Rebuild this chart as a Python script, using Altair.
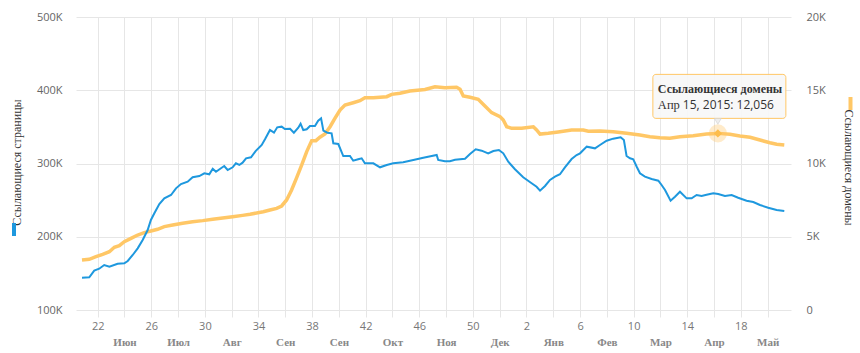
import altair as alt
import pandas as pd

# ---------------- data ----------------
START = "2014-05-26"  # Monday of ISO week 22, 2014; offsets below are days from it

pages_days = [-8.2, -4.4, -1.8, 0.8, 3.4, 6.1, 10.4, 13.9, 15.7, 18.3, 20.9, 23.5, 26.1, 27.8,
              29.6, 32.2, 34.8, 38.3, 40.9, 43.5, 47.0, 49.6, 53.1, 55.7, 58.3, 60.1, 61.8, 64.4,
              66.1, 67.9, 70.5, 72.2, 74.0, 75.7, 77.5, 80.1, 82.5, 85.7, 87.4, 90.0, 92.1, 93.8,
              96.1, 97.8, 100.5, 102.5, 104.8, 106.0, 107.4, 109.2, 110.9, 113.5, 115.2, 116.7,
              117.9, 120.0, 122.2, 123.1, 125.7, 128.3, 131.8, 133.5, 136.1, 137.9, 139.6, 144.0,
              147.5, 151.0, 154.4, 159.6, 164.9, 170.1, 174.5, 177.1, 177.9, 181.4, 184.0, 186.7,
              191.9, 194.5, 197.5, 200.6, 204.0, 206.7, 209.6, 211.9, 214.5, 218.0, 222.3, 226.7,
              229.3, 231.1, 233.7, 236.3, 238.9, 241.5, 244.1, 247.6, 250.2, 252.0, 255.5, 259.8,
              262.4, 265.9, 269.3, 273.2, 274.9, 276.3, 278.1, 279.8, 281.6, 283.3, 285.9, 289.4,
              292.9, 294.6, 296.4, 299.3, 301.6, 304.2, 307.7, 310.3, 312.9, 315.5, 318.1, 321.6,
              324.2, 327.7, 331.2, 334.6, 339.0, 342.5, 346.0, 350.3, 354.7, 358.7]
pages_values = [144100, 144600, 153700, 156400, 161400, 159100, 163200, 163700, 166900, 175100,
                184200, 195600, 209200, 222900, 232000, 244700, 252400, 257000, 266100, 272000,
                275200, 281200, 282900, 286600, 285300, 292900, 288800, 293500, 296600, 291100,
                294800, 300300, 298000, 301100, 307100, 308500, 317000, 325300, 333000, 345700,
                342100, 349400, 350300, 347100, 347500, 342100, 348900, 354300, 345700, 346700,
                351200, 351200, 358400, 361700, 344800, 342100, 341200, 327600, 326600, 310200,
                310200, 303800, 305700, 307100, 300300, 300300, 294800, 298000, 300300, 301600,
                304800, 307900, 310200, 311600, 304800, 303000, 303000, 305200, 306600, 313000,
                319400, 317500, 313900, 317100, 318400, 313900, 302400, 292100, 281200, 273000,
                268300, 262900, 269300, 277500, 282000, 285300, 294800, 306100, 311600, 313900,
                323000, 320700, 325300, 331100, 333900, 335800, 332100, 310200, 307100, 305700,
                295600, 286600, 282000, 278800, 276500, 270700, 263800, 249200, 254700, 261500,
                252400, 252400, 257000, 255600, 257400, 259300, 258400, 255600, 257000, 253300,
                249200, 247400, 243300, 239700, 236500, 235200]

domains_days = [-8.2, -4.4, -0.9, 2.6, 6.1, 8.7, 11.3, 13.9, 17.4, 20.9, 24.3, 27.8, 31.3, 34.8,
                39.2, 44.4, 49.6, 54.9, 60.1, 65.3, 70.5, 75.7, 79.6, 86.5, 90.0, 93.5, 96.1, 98.7,
                101.3, 103.8, 106.6, 109.2, 111.8, 114.0, 116.1, 118.7, 121.4, 124.0, 126.6, 129.2,
                133.5, 137.0, 139.6, 144.0, 151.0, 153.6, 157.9, 163.1, 168.4, 171.0, 176.2, 181.4,
                187.5, 189.3, 191.0, 194.5, 198.8, 202.3, 205.8, 210.2, 211.9, 213.7, 216.3, 221.5,
                227.6, 229.3, 231.1, 235.4, 240.6, 247.6, 253.7, 256.3, 262.4, 269.3, 276.3, 283.3,
                288.5, 293.7, 298.9, 304.2, 311.1, 318.1, 324.2, 330.3, 335.5, 340.8, 346.0, 351.2,
                354.7, 358.7]
domains_values = [3410, 3460, 3640, 3800, 3980, 4280, 4390, 4660, 4890, 5120, 5280, 5390, 5510,
                  5690, 5800, 5920, 6030, 6100, 6190, 6280, 6370, 6460, 6530, 6710, 6830, 6940,
                  7100, 7510, 8190, 8990, 9900, 10810, 11560, 11560, 11790, 12010, 12510, 13090,
                  13650, 13990, 14150, 14290, 14490, 14490, 14560, 14720, 14790, 14950, 15020,
                  15050, 15240, 15170, 15200, 15070, 14610, 14520, 14380, 13930, 13470, 13200,
                  12970, 12510, 12400, 12400, 12510, 12290, 12010, 12060, 12150, 12290, 12290,
                  12200, 12220, 12170, 12060, 11950, 11830, 11760, 11720, 11830, 11900, 12010,
                  12056, 11990, 11880, 11790, 11600, 11420, 11310, 11260]

# x-axis ticks: Mondays, every two weeks (week numbers), and month captions
week_ticks = ["2014-05-26", "2014-06-09", "2014-06-23", "2014-07-07", "2014-07-21", "2014-08-04",
              "2014-08-18", "2014-09-01", "2014-09-15", "2014-09-29", "2014-10-13", "2014-10-27",
              "2014-11-10", "2014-11-24", "2014-12-08", "2014-12-22", "2015-01-05", "2015-01-19",
              "2015-02-02", "2015-02-16", "2015-03-02", "2015-03-16", "2015-03-30", "2015-04-13",
              "2015-04-27", "2015-05-11"]
month_ticks = ["2014-06-09", "2014-07-07", "2014-08-04", "2014-09-01", "2014-09-29", "2014-10-27",
               "2014-11-24", "2014-12-22", "2015-01-19", "2015-02-16", "2015-03-16", "2015-04-13",
               "2015-05-11"]
month_names = ["Янв", "Фев", "Мар", "Апр", "Май", "Июн", "Июл", "Авг", "Сен", "Окт", "Ноя", "Дек"]
pages_ticks = [100000, 200000, 300000, 400000, 500000]
domains_ticks = [0, 5000, 10000, 15000, 20000]

# highlighted point (tooltip)
tip_date = ["2015-04-15"]
tip_value = [12056]
tip_series = ["Ссылающиеся домены"]
tip_month = ["Апр"]
tip_rest = ["15, 2015: 12,056"]

# ---------------- tables ----------------
start = pd.Timestamp(START)


def iso(days):
    return [(start + pd.Timedelta(days=d)).strftime("%Y-%m-%dT%H:%M:%SZ") for d in days]


pages_df = pd.DataFrame({"date": iso(pages_days), "value": pages_values})
domains_df = pd.DataFrame({"date": iso(domains_days), "value": domains_values})
tip_df = pd.DataFrame({"date": [d + "T00:00:00Z" for d in tip_date], "value": tip_value,
                       "series": tip_series, "month": tip_month, "rest": tip_rest})


def dt(s, hours=0):
    y, m, d = map(int, s.split("-"))
    return alt.DateTime(year=y, month=m, date=d, hours=hours, utc=True)


# ---------------- style ----------------
BLUE = "#1e98de"
ORANGE = "#ffc766"
GRID = "#e6e6e6"
SANS = "Open Sans"
SERIF = "Liberation Serif"

x_scale = alt.Scale(type="utc", domain=[dt("2014-05-14", 16), dt("2015-05-23", 5)], nice=False)
y_left = alt.Scale(domain=[pages_ticks[0], pages_ticks[-1]], nice=False)
y_right = alt.Scale(domain=[domains_ticks[0], domains_ticks[-1]], nice=False)

month_expr = "[" + ",".join("'%s'" % m for m in month_names) + "][utcmonth(datum.value)]"

week_axis = alt.Axis(
    orient="bottom", values=[dt(s) for s in week_ticks],
    labelExpr="toNumber(utcFormat(datum.value, '%V')) % 4 == 2 ? '' + toNumber(utcFormat(datum.value, '%V')) : ''",
    grid=True, gridColor=GRID, domain=False, ticks=True, tickColor=GRID, tickSize=7,
    labelPadding=3, labelFont=SANS, labelFontSize=11, labelColor="#777777",
    labelOverlap=False, title=None)

month_axis = alt.Axis(
    orient="bottom", values=[dt(s) for s in month_ticks], labelExpr=month_expr,
    grid=False, domain=False, ticks=False, tickSize=0, labelPadding=26,
    labelFont=SERIF, labelFontWeight="bold", labelFontSize=11, labelColor="#888888",
    labelOverlap=False, title=None)

left_axis = alt.Axis(
    orient="left", values=pages_ticks, labelExpr="datum.value / 1000 + 'K'",
    grid=True, gridColor=GRID, domain=False, ticks=False, tickSize=0, labelPadding=14,
    labelFont=SANS, labelFontSize=11, labelColor="#666666",
    title="Ссылающиеся страницы", titleFont=SERIF, titleFontSize=12, titleFontWeight="normal",
    titleColor="#333333", titleAngle=270, titleX=-60, titleY=145, titleAlign="center",
    titleBaseline="middle")

right_axis = alt.Axis(
    orient="right", values=domains_ticks,
    labelExpr="datum.value == 0 ? '0' : datum.value / 1000 + 'K'",
    grid=False, domain=False, ticks=False, tickSize=0, labelPadding=15,
    labelFont=SANS, labelFontSize=11, labelColor="#666666",
    title="Ссылающиеся домены", titleFont=SERIF, titleFontSize=12, titleFontWeight="normal",
    titleColor="#333333", titleAngle=90, titleX=57, titleY=150, titleAlign="center",
    titleBaseline="middle")

# ---------------- layers ----------------
orange_line = alt.Chart(domains_df).mark_line(color=ORANGE, strokeWidth=3.5).encode(
    x=alt.X("date:T", scale=x_scale, axis=month_axis),
    y=alt.Y("value:Q", scale=y_right, axis=right_axis))

blue_line = alt.Chart(pages_df).mark_line(color=BLUE, strokeWidth=2).encode(
    x=alt.X("date:T", scale=x_scale, axis=week_axis),
    y=alt.Y("value:Q", scale=y_left, axis=left_axis))

left_bar = alt.Chart(tip_df).mark_rule(color=BLUE, strokeWidth=4).encode(
    x=alt.value(-62), y=alt.value(206), y2=alt.value(219))
right_bar = alt.Chart(tip_df).mark_rule(color=ORANGE, strokeWidth=4).encode(
    x=alt.value(774.5), y=alt.value(80), y2=alt.value(93))

tx = alt.X("date:T", axis=None)
ty = alt.Y("value:Q", scale=y_right, axis=None)

halo = alt.Chart(tip_df).mark_point(shape="circle", filled=True, color=ORANGE,
                                    opacity=0.35, size=330).encode(x=tx, y=ty)
diamond = alt.Chart(tip_df).mark_point(shape="diamond", filled=True, color="#fdbd4c",
                                       opacity=1, size=70).encode(x=tx, y=ty)
box = alt.Chart(tip_df).mark_rect(
    fill="#f7f7f7", fillOpacity=0.92, stroke=ORANGE, strokeWidth=1, cornerRadius=3,
    xOffset=-65, x2Offset=68, yOffset=-59, y2Offset=-15).encode(
    x=tx, x2=alt.X2("date"), y=ty, y2=alt.Y2("value"))
pointer = alt.Chart(tip_df).mark_point(shape="triangle-down", filled=True, fill="#eeeeee",
                                       stroke="#d0d0d0", strokeWidth=0.6, opacity=1,
                                       size=45, yOffset=-12).encode(x=tx, y=ty)
tip_title = alt.Chart(tip_df).mark_text(
    align="left", baseline="middle", dx=-60, dy=-44.5, font=SERIF, fontWeight="bold",
    fontSize=12, color="#333333").encode(x=tx, y=ty, text="series:N")
tip_month_t = alt.Chart(tip_df).mark_text(
    align="left", baseline="middle", dx=-60, dy=-28.5, font=SERIF,
    fontSize=12.5, color="#333333").encode(x=tx, y=ty, text="month:N")
tip_rest_t = alt.Chart(tip_df).mark_text(
    align="left", baseline="middle", dx=-35, dy=-28.5, font=SANS,
    fontSize=12, color="#333333").encode(x=tx, y=ty, text="rest:N")

chart = alt.layer(
    orange_line, blue_line, left_bar, right_bar,
    halo, diamond, box, pointer, tip_title, tip_month_t, tip_rest_t
).resolve_scale(y="independent").resolve_axis(x="independent", y="independent").properties(
    width=715, height=293,
    autosize=alt.AutoSizeParams(type="none"),
    padding={"left": 76, "top": 17, "right": 69, "bottom": 43},
).configure_view(stroke="transparent")

chart.save("out.html", embed_options={"renderer": "svg", "actions": False})
